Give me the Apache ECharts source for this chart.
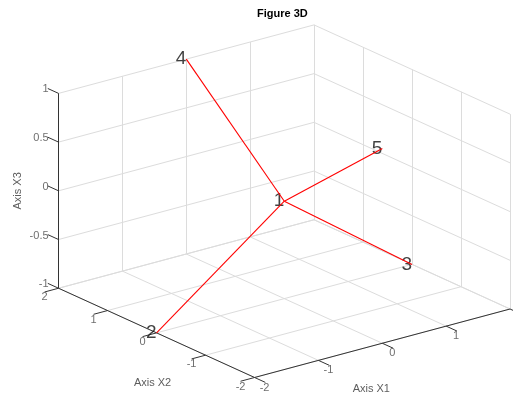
<!DOCTYPE html>
<html>
<head>
<meta charset="utf-8">
<script src="https://cdn.jsdelivr.net/npm/echarts@6/dist/echarts.min.js"></script>
<style>
  html, body { margin: 0; padding: 0; background: #fff; }
  #chart { width: 513px; height: 397px; }
</style>
</head>
<body>
<div id="chart"></div>
<script>
// points (x1, x2, x3) and their names
const pointNames = ['1', '2', '3', '4', '5'];
const ptX1 = [0, -2, 2, 0, 0];
const ptX2 = [0, 0, 0, 2, -2];
const ptX3 = [0, -1, -1, 1, 1];
// segments drawn from point index to point index
const edgeFrom = [0, 0, 0, 0];
const edgeTo = [1, 2, 3, 4];

// axis ticks
const x1Ticks = [-2, -1, 0, 1, 2];
const x2Ticks = [-2, -1, 0, 1, 2];
const x3Ticks = [-1, -0.5, 0, 0.5, 1];
const x1TickLabels = ['-2', '-1', '0', '1'];
const x2TickLabels = ['-2', '-1', '0', '1', '2'];
const x3TickLabels = ['-1', '-0.5', '0', '0.5', '1'];

// view (MATLAB default 3D view) and how it is fitted into the canvas
const AZ = -37.5 * Math.PI / 180;
const EL = 30 * Math.PI / 180;
const W = 513, H = 397;
const CX = 284.3, CY = 201.2, SX = 161, SY = 112.5;
const LIM = { x1: [-2, 2], x2: [-2, 2], x3: [-1, 1] };

function norm(v, lim) { return (v - lim[0]) / (lim[1] - lim[0]) * 2 - 1; }
function proj(a, b, c) {
  const nx = norm(a, LIM.x1), ny = norm(b, LIM.x2), nz = norm(c, LIM.x3);
  return [
    Math.cos(AZ) * nx + Math.sin(AZ) * ny,
    -Math.sin(EL) * Math.sin(AZ) * nx + Math.sin(EL) * Math.cos(AZ) * ny + Math.cos(EL) * nz
  ];
}
function seg(p, q) { return { coords: [proj(p[0], p[1], p[2]), proj(q[0], q[1], q[2])] }; }

const [x1lo, x1hi] = LIM.x1, [x2lo, x2hi] = LIM.x2, [x3lo, x3hi] = LIM.x3;

// grid on the three back planes: floor, x2 = max wall, x1 = max wall
const gridSegs = [];
x1Ticks.forEach(t => {
  gridSegs.push(seg([t, x2lo, x3lo], [t, x2hi, x3lo]));
  gridSegs.push(seg([t, x2hi, x3lo], [t, x2hi, x3hi]));
});
x2Ticks.forEach(t => {
  gridSegs.push(seg([x1lo, t, x3lo], [x1hi, t, x3lo]));
  gridSegs.push(seg([x1hi, t, x3lo], [x1hi, t, x3hi]));
});
x3Ticks.forEach(t => {
  gridSegs.push(seg([x1lo, x2hi, t], [x1hi, x2hi, t]));
  gridSegs.push(seg([x1hi, x2lo, t], [x1hi, x2hi, t]));
});

// axis lines and tick marks
const axisSegs = [
  seg([x1lo, x2lo, x3lo], [x1hi, x2lo, x3lo]),
  seg([x1lo, x2lo, x3lo], [x1lo, x2hi, x3lo]),
  seg([x1lo, x2hi, x3lo], [x1lo, x2hi, x3hi])
];
const tickLen = 0.11;
x1Ticks.forEach(t => axisSegs.push(seg([t, x2lo, x3lo], [t, x2lo - tickLen * 2, x3lo])));
x2Ticks.forEach(t => axisSegs.push(seg([x1lo, t, x3lo], [x1lo - tickLen * 2, t, x3lo])));
x3Ticks.forEach(t => axisSegs.push(seg([x1lo, x2hi, t], [x1lo, x2hi + tickLen * 2, t])));

// red segments, one line series each
const edgeSeries = edgeFrom.map((f, i) => {
  const g = edgeTo[i];
  return {
    type: 'line', silent: true, symbol: 'none',
    lineStyle: { color: '#ff0000', width: 1.1 },
    data: [proj(ptX1[f], ptX2[f], ptX3[f]), proj(ptX1[g], ptX2[g], ptX3[g])]
  };
});

const FONT = "'Liberation Sans', Arial, sans-serif";
const tickStyle = { color: '#4a4a4a', fontSize: 11, fontFamily: FONT };

function labelPoints(list, offset, align, extra) {
  return list.map(d => ({
    name: d.text,
    value: proj(d.at[0], d.at[1], d.at[2]),
    label: Object.assign({
      show: true, formatter: d.text, position: 'inside', offset: offset,
      align: align, verticalAlign: 'middle'
    }, tickStyle, extra || {})
  }));
}

const tickLabelData = [].concat(
  labelPoints(x1TickLabels.map((s, i) => ({ text: s, at: [x1Ticks[i], x2lo, x3lo] })), [10, 10], 'center'),
  labelPoints(x2TickLabels.map((s, i) => ({ text: s, at: [x1lo, x2Ticks[i], x3lo] })), [-14, 9], 'center'),
  labelPoints(x3TickLabels.map((s, i) => ({ text: s, at: [x1lo, x2hi, x3Ticks[i]] })), [-10, -4], 'right'),
  labelPoints([{ text: 'Axis X1', at: [0, x2lo, x3lo] }], [-11, 46], 'center', { color: '#333' }),
  labelPoints([{ text: 'Axis X2', at: [x1lo, 0, x3lo] }], [-4, 50], 'center', { color: '#333' }),
  // offset is applied in the rotated frame
  labelPoints([{ text: 'Axis X3', at: [x1lo, x2hi, 0] }], [0, -41], 'center', { color: '#333', rotate: 90 })
);

const pointData = pointNames.map((n, i) => ({
  name: n,
  value: proj(ptX1[i], ptX2[i], ptX3[i])
}));

const chart = echarts.init(document.getElementById('chart'), null, { renderer: 'canvas' });
chart.setOption({
  animation: false,
  backgroundColor: '#fff',
  title: {
    text: 'Figure 3D',
    left: 257,
    top: 8,
    padding: 0,
    textStyle: { fontSize: 11, fontWeight: 'bold', color: '#000', fontFamily: FONT }
  },
  grid: { left: 0, right: 0, top: 0, bottom: 0 },
  xAxis: { type: 'value', min: -CX / SX, max: (W - CX) / SX, show: false },
  yAxis: { type: 'value', min: -(H - CY) / SY, max: CY / SY, show: false },
  series: [
    {
      type: 'lines', coordinateSystem: 'cartesian2d', silent: true,
      lineStyle: { color: '#dcdcdc', width: 1, opacity: 1 },
      data: gridSegs
    },
    {
      type: 'lines', coordinateSystem: 'cartesian2d', silent: true,
      lineStyle: { color: '#333', width: 1, opacity: 1 },
      data: axisSegs
    }
  ].concat(edgeSeries, [
    {
      type: 'scatter', symbolSize: 0, silent: true,
      data: tickLabelData
    },
    {
      type: 'scatter', symbolSize: 0, silent: true,
      label: {
        show: true, formatter: '{b}', position: 'left', distance: 0,
        fontSize: 19, color: '#111', fontFamily: FONT
      },
      data: pointData
    }
  ])
});
</script>
</body>
</html>
